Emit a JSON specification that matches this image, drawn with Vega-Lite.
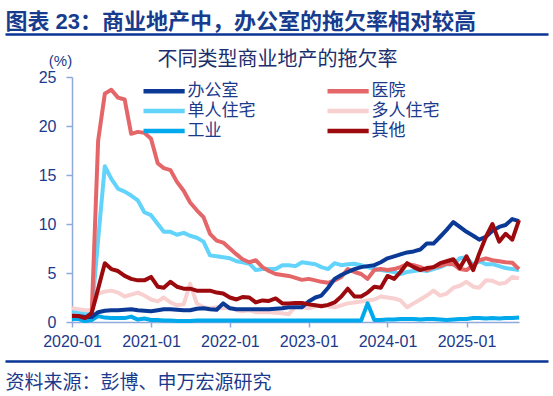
{
  "$schema": "https://vega.github.io/schema/vega-lite/v6.json",
  "background": "white",
  "padding": {"left": 5, "top": 10, "right": 5, "bottom": 5},
  "width": 447,
  "height": 245,
  "config": {"view": {"stroke": null}, "font": "Liberation Sans, Noto Sans CJK SC"},
  "resolve": {"scale": {"x": "independent"}, "axis": {"x": "independent"}},
  "layer": [
    {
      "data": {"values": [
        {"d":"2020-01-01","办公室":0.6,"医院":0.7,"单人住宅":1.0,"多人住宅":1.4,"工业":0.3,"其他":0.6},
        {"d":"2020-02-01","办公室":0.6,"医院":0.6,"单人住宅":0.9,"多人住宅":1.3,"工业":0.3,"其他":0.6},
        {"d":"2020-03-01","办公室":0.5,"医院":0.5,"单人住宅":0.8,"多人住宅":1.2,"工业":0.1,"其他":0.4},
        {"d":"2020-04-01","办公室":0.5,"医院":0.6,"单人住宅":0.8,"多人住宅":1.2,"工业":0.2,"其他":0.9},
        {"d":"2020-05-01","办公室":1.0,"医院":18.5,"单人住宅":8.4,"多人住宅":2.9,"工业":0.6,"其他":3.4},
        {"d":"2020-06-01","办公室":1.15,"医院":23.3,"单人住宅":15.9,"多人住宅":3.1,"工业":0.45,"其他":6.0},
        {"d":"2020-07-01","办公室":1.2,"医院":23.7,"单人住宅":14.6,"多人住宅":3.2,"工业":0.4,"其他":5.4},
        {"d":"2020-08-01","办公室":1.2,"医院":22.9,"单人住宅":13.6,"多人住宅":3.0,"工业":0.4,"其他":5.2},
        {"d":"2020-09-01","办公室":1.25,"医院":22.7,"单人住宅":13.3,"多人住宅":2.6,"工业":0.4,"其他":4.7},
        {"d":"2020-10-01","办公室":1.3,"医院":19.2,"单人住宅":12.9,"多人住宅":2.8,"工业":0.55,"其他":4.4},
        {"d":"2020-11-01","办公室":1.2,"医院":19.4,"单人住宅":12.4,"多人住宅":3.0,"工业":0.25,"其他":4.25},
        {"d":"2020-12-01","办公室":1.15,"医院":19.3,"单人住宅":11.2,"多人住宅":2.7,"工业":0.35,"其他":4.25},
        {"d":"2021-01-01","办公室":1.1,"医院":18.7,"单人住宅":10.9,"多人住宅":2.3,"工业":0.2,"其他":4.6},
        {"d":"2021-02-01","办公室":1.2,"医院":16.2,"单人住宅":10.0,"多人住宅":2.1,"工业":0.2,"其他":3.6},
        {"d":"2021-03-01","办公室":1.3,"医院":15.7,"单人住宅":9.2,"多人住宅":2.5,"工业":0.15,"其他":3.5},
        {"d":"2021-04-01","办公室":1.3,"医院":15.5,"单人住宅":9.2,"多人住宅":2.0,"工业":0.15,"其他":4.1},
        {"d":"2021-05-01","办公室":1.25,"医院":14.3,"单人住宅":8.9,"多人住宅":1.7,"工业":0.1,"其他":3.6},
        {"d":"2021-06-01","办公室":1.2,"医院":13.4,"单人住宅":9.1,"多人住宅":1.8,"工业":0.1,"其他":3.4},
        {"d":"2021-07-01","办公室":1.2,"医院":12.2,"单人住宅":8.8,"多人住宅":3.9,"工业":0.1,"其他":3.4},
        {"d":"2021-08-01","办公室":1.35,"医院":11.4,"单人住宅":8.6,"多人住宅":1.9,"工业":0.15,"其他":3.2},
        {"d":"2021-09-01","办公室":1.4,"医院":10.7,"单人住宅":8.2,"多人住宅":1.5,"工业":0.15,"其他":3.2},
        {"d":"2021-10-01","办公室":1.3,"医院":9.0,"单人住宅":6.8,"多人住宅":1.4,"工业":0.15,"其他":3.2},
        {"d":"2021-11-01","办公室":1.25,"医院":8.3,"单人住宅":6.7,"多人住宅":1.5,"工业":0.15,"其他":3.0},
        {"d":"2021-12-01","办公室":1.9,"医院":8.1,"单人住宅":6.6,"多人住宅":1.4,"工业":0.15,"其他":2.9},
        {"d":"2022-01-01","办公室":1.4,"医院":7.5,"单人住宅":6.5,"多人住宅":1.5,"工业":0.15,"其他":2.5},
        {"d":"2022-02-01","办公室":1.3,"医院":6.9,"单人住宅":6.2,"多人住宅":1.2,"工业":0.15,"其他":2.3},
        {"d":"2022-03-01","办公室":1.3,"医院":6.4,"单人住宅":6.1,"多人住宅":1.1,"工业":0.15,"其他":2.55},
        {"d":"2022-04-01","办公室":1.3,"医院":6.1,"单人住宅":5.95,"多人住宅":1.2,"工业":0.15,"其他":2.5},
        {"d":"2022-05-01","办公室":1.3,"医院":6.3,"单人住宅":5.3,"多人住宅":1.0,"工业":0.15,"其他":2.0},
        {"d":"2022-06-01","办公室":1.3,"医院":5.6,"单人住宅":5.4,"多人住宅":1.0,"工业":0.15,"其他":2.2},
        {"d":"2022-07-01","办公室":1.3,"医院":5.2,"单人住宅":5.4,"多人住宅":1.0,"工业":0.15,"其他":2.15},
        {"d":"2022-08-01","办公室":1.35,"医院":4.9,"单人住宅":5.4,"多人住宅":0.95,"工业":0.15,"其他":2.4},
        {"d":"2022-09-01","办公室":1.4,"医院":4.8,"单人住宅":5.8,"多人住宅":0.9,"工业":0.15,"其他":1.9},
        {"d":"2022-10-01","办公室":1.5,"医院":4.7,"单人住宅":5.8,"多人住宅":0.8,"工业":0.15,"其他":1.9},
        {"d":"2022-11-01","办公室":1.5,"医院":4.5,"单人住宅":5.7,"多人住宅":1.6,"工业":0.15,"其他":1.95},
        {"d":"2022-12-01","办公室":1.5,"医院":4.3,"单人住宅":6.1,"多人住宅":1.5,"工业":0.15,"其他":1.95},
        {"d":"2023-01-01","办公室":2.1,"医院":4.4,"单人住宅":6.0,"多人住宅":1.4,"工业":0.15,"其他":1.8},
        {"d":"2023-02-01","办公室":2.5,"医院":4.25,"单人住宅":5.9,"多人住宅":1.6,"工业":0.15,"其他":1.7},
        {"d":"2023-03-01","办公室":2.7,"医院":4.1,"单人住宅":5.6,"多人住宅":1.7,"工业":0.15,"其他":1.6},
        {"d":"2023-04-01","办公室":3.5,"医院":4.0,"单人住宅":5.4,"多人住宅":1.6,"工业":0.15,"其他":1.75},
        {"d":"2023-05-01","办公室":4.4,"医院":4.25,"单人住宅":6.0,"多人住宅":1.5,"工业":0.15,"其他":2.0},
        {"d":"2023-06-01","办公室":4.8,"医院":4.6,"单人住宅":5.8,"多人住宅":1.7,"工业":0.15,"其他":2.6},
        {"d":"2023-07-01","办公室":5.1,"医院":5.4,"单人住宅":5.9,"多人住宅":1.9,"工业":0.15,"其他":3.4},
        {"d":"2023-08-01","办公室":5.4,"医院":5.1,"单人住宅":5.95,"多人住宅":2.0,"工业":0.15,"其他":2.6},
        {"d":"2023-09-01","办公室":5.6,"医院":4.9,"单人住宅":5.8,"多人住宅":2.1,"工业":0.15,"其他":2.6},
        {"d":"2023-10-01","办公室":5.7,"医院":4.4,"单人住宅":5.6,"多人住宅":2.2,"工业":1.9,"其他":3.0},
        {"d":"2023-11-01","办公室":5.8,"医院":5.3,"单人住宅":5.4,"多人住宅":2.3,"工业":0.2,"其他":3.6},
        {"d":"2023-12-01","办公室":6.1,"医院":5.4,"单人住宅":5.3,"多人住宅":2.6,"工业":0.2,"其他":3.5},
        {"d":"2024-01-01","办公室":6.5,"医院":5.3,"单人住宅":5.2,"多人住宅":2.5,"工业":0.25,"其他":4.7},
        {"d":"2024-02-01","办公室":6.7,"医院":5.4,"单人住宅":5.1,"多人住宅":2.4,"工业":0.25,"其他":4.4},
        {"d":"2024-03-01","办公室":6.9,"医院":5.6,"单人住宅":4.9,"多人住宅":2.2,"工业":0.3,"其他":5.1},
        {"d":"2024-04-01","办公室":7.1,"医院":5.9,"单人住宅":5.1,"多人住宅":1.5,"工业":0.3,"其他":6.0},
        {"d":"2024-05-01","办公室":7.2,"医院":5.8,"单人住宅":5.2,"多人住宅":1.9,"工业":0.3,"其他":5.6},
        {"d":"2024-06-01","办公室":7.4,"医院":5.6,"单人住宅":5.3,"多人住宅":2.3,"工业":0.25,"其他":5.3},
        {"d":"2024-07-01","办公室":8.0,"医院":5.3,"单人住宅":5.2,"多人住宅":2.7,"工业":0.3,"其他":5.5},
        {"d":"2024-08-01","办公室":8.0,"医院":5.6,"单人住宅":5.4,"多人住宅":3.2,"工业":0.3,"其他":5.6},
        {"d":"2024-09-01","办公室":8.7,"医院":5.7,"单人住宅":5.6,"多人住宅":2.7,"工业":0.25,"其他":6.0},
        {"d":"2024-10-01","办公室":9.4,"医院":5.95,"单人住宅":5.9,"多人住宅":2.9,"工业":0.2,"其他":6.2},
        {"d":"2024-11-01","办公室":10.2,"医院":5.9,"单人住宅":5.9,"多人住宅":3.5,"工业":0.25,"其他":6.4},
        {"d":"2024-12-01","办公室":9.7,"医院":5.4,"单人住宅":6.5,"多人住宅":3.7,"工业":0.3,"其他":5.5},
        {"d":"2025-01-01","办公室":9.2,"医院":5.3,"单人住宅":6.6,"多人住宅":4.1,"工业":0.3,"其他":6.7},
        {"d":"2025-02-01","办公室":8.8,"医院":5.8,"单人住宅":5.8,"多人住宅":3.6,"工业":0.4,"其他":5.3},
        {"d":"2025-03-01","办公室":8.4,"医院":6.3,"单人住宅":6.2,"多人住宅":3.5,"工业":0.4,"其他":7.0},
        {"d":"2025-04-01","办公室":8.7,"医院":6.5,"单人住宅":5.9,"多人住宅":4.25,"工业":0.35,"其他":8.7},
        {"d":"2025-05-01","办公室":9.3,"医院":6.3,"单人住宅":5.9,"多人住宅":4.2,"工业":0.4,"其他":10.0},
        {"d":"2025-06-01","办公室":9.7,"医院":6.2,"单人住宅":5.7,"多人住宅":3.9,"工业":0.35,"其他":8.2},
        {"d":"2025-07-01","办公室":9.9,"医院":6.1,"单人住宅":5.5,"多人住宅":4.0,"工业":0.4,"其他":9.0},
        {"d":"2025-08-01","办公室":10.5,"医院":6.05,"单人住宅":5.4,"多人住宅":4.6,"工业":0.4,"其他":8.4},
        {"d":"2025-09-01","办公室":10.3,"医院":5.4,"单人住宅":5.3,"多人住宅":4.45,"工业":0.45,"其他":10.4}
      ]},
      "transform": [{"fold": ["多人住宅", "工业", "单人住宅", "医院", "办公室", "其他"], "as": ["type", "value"]}],
      "mark": {"type": "line", "strokeWidth": 4, "strokeJoin": "round", "strokeCap": "butt"},
      "encoding": {
        "x": {
          "field": "d", "type": "temporal",
          "scale": {"type": "utc", "domain": [{"year": 2020, "month": 1, "date": 1, "utc": true}, {"year": 2025, "month": 9, "date": 1, "utc": true}], "nice": false},
          "axis": {
            "orient": "bottom",
            "values": [
              {"year": 2020, "month": 1, "date": 1, "utc": true},
              {"year": 2021, "month": 1, "date": 1, "utc": true},
              {"year": 2022, "month": 1, "date": 1, "utc": true},
              {"year": 2023, "month": 1, "date": 1, "utc": true},
              {"year": 2024, "month": 1, "date": 1, "utc": true},
              {"year": 2025, "month": 1, "date": 1, "utc": true}
            ],
            "format": "%Y-%m", "title": null, "grid": false, "labelFlush": false, "labelOverlap": false,
            "labelFontSize": 16, "labelColor": "#1B3A8C", "labelPadding": 6,
            "domainColor": "#8EA9DB", "domainWidth": 1.5, "tickColor": "#8EA9DB", "tickWidth": 1.5, "tickSize": 5
          }
        },
        "y": {
          "field": "value", "type": "quantitative",
          "scale": {"domain": [0, 25], "nice": false},
          "axis": {
            "values": [0, 5, 10, 15, 20, 25], "grid": false,
            "labelFontSize": 16, "labelColor": "#1B3A8C", "labelPadding": 10,
            "domainColor": "#8EA9DB", "domainWidth": 1.5, "tickColor": "#8EA9DB", "tickWidth": 1.5, "tickSize": 6,
            "title": "(%)", "titleAngle": 0, "titleX": -12, "titleY": -17, "titleAlign": "center", "titleBaseline": "middle",
            "titleFontSize": 15, "titleFontWeight": "normal", "titleColor": "#1B3A8C"
          }
        },
        "color": {
          "field": "type", "type": "nominal",
          "scale": {
            "domain": ["办公室", "单人住宅", "工业", "医院", "多人住宅", "其他"],
            "range": ["#0B3A96", "#62D3FA", "#00A9EC", "#E46668", "#F8D0D0", "#9C0A0E"]
          },
          "legend": {
            "title": null, "orient": "none", "legendX": 71, "legendY": 3.5, "columns": 2,
            "symbolType": "M-1.25,0L3.9,0", "symbolSize": 256, "symbolStrokeWidth": 4.5,
            "labelFontSize": 17, "labelColor": "#1B3A8C", "labelOffset": 23.5,
            "rowPadding": 0, "columnPadding": 62, "labelLimit": 300
          }
        }
      }
    },
    {
      "data": {"values": []},
      "mark": {"type": "point", "opacity": 0},
      "encoding": {
        "x": {
          "field": "u", "type": "quantitative",
          "scale": {"domain": [0, 1], "range": [-67, 476]},
          "axis": {
            "orient": "top", "offset": 43, "domain": true, "domainColor": "#0A3594", "domainWidth": 2.5,
            "ticks": false, "labels": false, "grid": false,
            "title": "图表 23：商业地产中，办公室的拖欠率相对较高",
            "titleAnchor": "start", "titleAlign": "left", "titleBaseline": "bottom", "titlePadding": 1,
            "titleFontSize": 22, "titleFontWeight": "bold", "titleColor": "#173C8E"
          }
        }
      }
    },
    {
      "data": {"values": []},
      "mark": {"type": "point", "opacity": 0},
      "encoding": {
        "x": {
          "field": "u", "type": "quantitative",
          "scale": {"domain": [0, 1], "range": [-67, 476]},
          "axis": {
            "orient": "bottom", "offset": 39, "domain": true, "domainColor": "#0A3594", "domainWidth": 2.5,
            "ticks": false, "labels": false, "grid": false,
            "title": "资料来源：彭博、申万宏源研究",
            "titleAnchor": "start", "titleAlign": "left", "titleBaseline": "top", "titlePadding": 12,
            "titleFontSize": 19, "titleFontWeight": "normal", "titleColor": "#1B3A8C"
          }
        }
      }
    },
    {
      "data": {"values": []},
      "mark": {"type": "point", "opacity": 0},
      "encoding": {
        "x": {
          "field": "u", "type": "quantitative",
          "scale": {"domain": [0, 1]},
          "axis": {
            "orient": "top", "offset": 0, "domain": false,
            "ticks": false, "labels": false, "grid": false,
            "title": "不同类型商业地产的拖欠率",
            "titleX": 205, "titleY": -18, "titleAlign": "center", "titleBaseline": "middle",
            "titleFontSize": 20, "titleFontWeight": "normal", "titleColor": "#1B2F6E"
          }
        }
      }
    }
  ]
}
